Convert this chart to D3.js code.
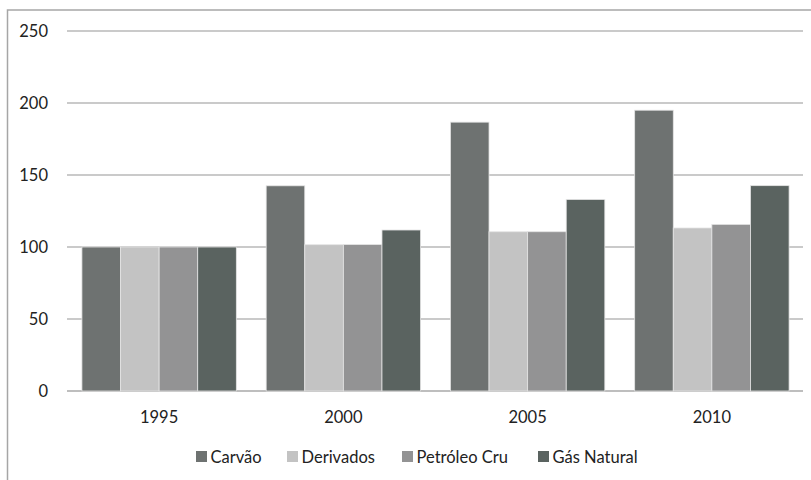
<!DOCTYPE html>
<html>
<head>
<meta charset="utf-8">
<script src="https://cdn.jsdelivr.net/npm/d3@7/dist/d3.min.js"></script>
<style>
  html, body { margin: 0; padding: 0; background: #ffffff; }
  svg { display: block; }
  text { font-family: Lato, "Open Sans", sans-serif; fill: #222; }
</style>
</head>
<body>
<svg id="chart" width="811" height="480"></svg>
<script>
// Índice de consumo por fonte (1995 = 100)
const years = ["1995", "2000", "2005", "2010"];
const seriesNames = ["Carvão", "Derivados", "Petróleo Cru", "Gás Natural"];
const carvao = [100, 142.5, 186.7, 195];
const derivados = [100, 101.6, 110.6, 113.2];
const petroleoCru = [100, 101.7, 110.6, 115.7];
const gasNatural = [100, 111.8, 133, 142.6];
const yTicks = [0, 50, 100, 150, 200, 250];
const colors = ["#6e7271", "#c3c3c3", "#939394", "#5a6360"];

const seriesValues = [carvao, derivados, petroleoCru, gasNatural];

const svg = d3.select("#chart");

// outer frame of the chart area
svg.append("rect")
  .attr("x", 7.5).attr("y", 10)
  .attr("width", 830).attr("height", 500)
  .attr("fill", "#ffffff")
  .attr("stroke", "#a6a6a6")
  .attr("stroke-width", 1.5);

const plotLeft = 67, plotRight = 804, plotTop = 31, plotBottom = 391;

const y = d3.scaleLinear().domain([0, 250]).range([plotBottom, plotTop]);
const x0 = d3.scaleBand().domain(years).range([plotLeft, plotRight])
  .paddingInner(0.162).paddingOuter(0.081);
const x1 = d3.scaleBand().domain(seriesNames).range([0, x0.bandwidth()]).padding(0);

// horizontal gridlines
svg.append("g").selectAll("line")
  .data(yTicks)
  .join("line")
  .attr("x1", plotLeft).attr("x2", plotRight - 1)
  .attr("y1", d => y(d)).attr("y2", d => y(d))
  .attr("stroke", d => d === 0 ? "#a8a8a8" : "#b8b8b8")
  .attr("stroke-width", 1.4);

// y axis labels
const yAxis = d3.axisLeft(y).tickValues(yTicks).tickSize(0).tickPadding(0);
const gy = svg.append("g").attr("transform", "translate(48,0)").call(yAxis);
gy.select(".domain").remove();
gy.selectAll("text")
  .attr("font-family", "Lato, 'Open Sans', sans-serif")
  .attr("font-size", 16.5)
  .attr("fill", "#222")
  .attr("dy", "0.36em");

// bars
const groups = svg.append("g").selectAll("g")
  .data(years)
  .join("g")
  .attr("transform", d => `translate(${x0(d)},0)`);

groups.selectAll("rect")
  .data((d, i) => seriesNames.map((s, k) => ({ s, v: seriesValues[k][i], k })))
  .join("rect")
  .attr("x", d => x1(d.s))
  .attr("y", d => y(d.v))
  .attr("width", x1.bandwidth())
  .attr("height", d => y(0) - y(d.v))
  .attr("fill", d => colors[d.k])
  .attr("stroke", "#e4e4e4")
  .attr("stroke-width", 0.8);

// x axis labels
const xAxis = d3.axisBottom(x0).tickSize(0).tickPadding(0);
const gx = svg.append("g").attr("transform", `translate(0,${plotBottom + 20})`).call(xAxis);
gx.select(".domain").remove();
gx.selectAll("text")
  .attr("font-family", "Lato, 'Open Sans', sans-serif")
  .attr("font-size", 16.5)
  .attr("fill", "#222");

// legend
const legendX = [196, 287, 402, 538];
const legend = svg.append("g").selectAll("g")
  .data(seriesNames)
  .join("g")
  .attr("transform", (d, i) => `translate(${legendX[i]},451)`);
legend.append("rect")
  .attr("width", 11).attr("height", 11)
  .attr("fill", (d, i) => colors[i]);
legend.append("text")
  .attr("x", 14.5).attr("y", 11.5)
  .attr("font-size", 16.5)
  .text(d => d);
</script>
</body>
</html>
